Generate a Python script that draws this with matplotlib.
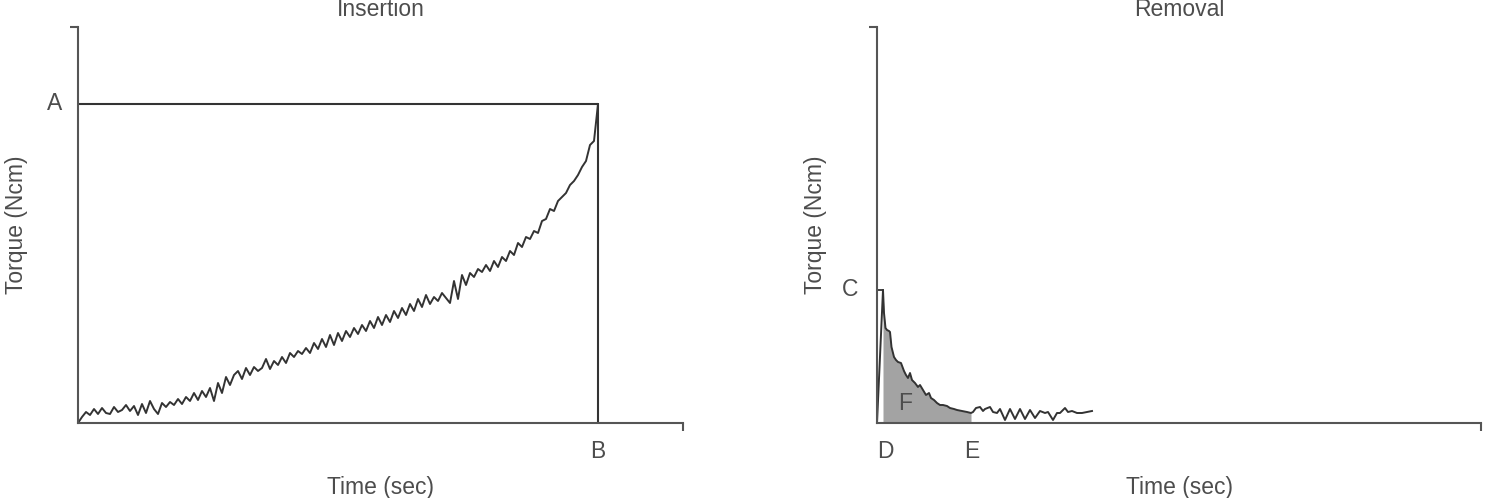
import matplotlib
matplotlib.use('Agg')
import matplotlib.pyplot as plt
import matplotlib.transforms as mtransforms

plt.rcParams['font.family'] = ['Liberation Sans', 'DejaVu Sans']

# insertion torque trace (arbitrary units)
ins_time = list(range(0, 524, 4))
ins_torque = [0, 6, 11, 8, 14, 9, 15, 10, 9, 16, 11, 13, 18, 12, 17, 8, 19, 10, 22, 14,
              9, 20, 16, 21, 18, 24, 19, 26, 22, 30, 23, 32, 26, 35, 22, 40, 30, 46, 38, 48,
              52, 44, 55, 48, 56, 52, 55, 64, 54, 62, 58, 66, 60, 70, 66, 72, 69, 75, 70, 80,
              74, 84, 76, 88, 78, 90, 82, 92, 86, 95, 89, 98, 92, 102, 95, 106, 98, 108, 101, 112,
              105, 115, 108, 119, 112, 124, 116, 128, 119, 126, 122, 130, 125, 120, 142, 124, 148, 138, 150, 146,
              154, 151, 158, 152, 162, 156, 166, 162, 172, 168, 180, 176, 186, 184, 192, 190, 202, 204, 214, 212,
              222, 226, 230, 238, 242, 248, 256, 262, 278, 282, 319]
peak_A = 319
time_B = 520

# removal torque trace
rem_time = [0, 6, 7, 8.5, 10, 12, 13, 14.5, 16, 17, 19, 21, 24, 27, 29, 31, 33, 35, 38, 41,
            43, 46, 49, 52, 54, 57, 60, 63, 66, 70, 73, 77, 80, 85, 90, 94, 96, 99, 103, 106,
            108, 113, 116, 120, 123, 128, 133, 138, 143, 148, 153, 158, 163, 168, 171, 176, 180, 183, 188, 191,
            195, 200, 205, 210, 215]
rem_torque = [0, 133, 110, 95, 93, 92, 91, 76, 70, 66, 63, 61, 60, 52, 48, 45, 50, 43, 40, 36,
              38, 33, 28, 30, 25, 23, 20, 18, 18, 17, 15, 14, 13, 12, 11, 10, 11, 15, 16, 12,
              14, 16, 11, 10, 14, 3, 14, 4, 14, 4, 13, 5, 12, 10, 11, 3, 10, 10, 15, 11,
              12, 10, 10, 11, 12]
peak_C = 133
time_D = 8
time_E = 95
fill_start, fill_end = 6, 94

line_col = '#333333'
spine_col = '#555555'
text_col = '#4d4d4d'
fs = 16.5

fig = plt.figure(figsize=(14.85, 4.98), dpi=100)
ax1 = fig.add_axes([78 / 1485, 75 / 498, 605 / 1485, 396 / 498])
ax2 = fig.add_axes([877 / 1485, 75 / 498, 604 / 1485, 396 / 498])

for ax, xmax, title in [(ax1, 605, 'Insertion'), (ax2, 604, 'Removal')]:
    ax.set_xlim(0, xmax)
    ax.set_ylim(0, 396)
    for s in ['top', 'right']:
        ax.spines[s].set_visible(False)
    for s in ['left', 'bottom']:
        ax.spines[s].set_color(spine_col)
        ax.spines[s].set_linewidth(1.5)
    ax.set_xticks([xmax])
    ax.set_yticks([396])
    ax.set_xticklabels([])
    ax.set_yticklabels([])
    ax.tick_params(direction='out', length=6, width=1.5, color=spine_col)
    ax.set_title(title, fontsize=fs, color=text_col, pad=8)
    ax.text(0.5, -0.162, 'Time (sec)', transform=ax.transAxes, ha='center', va='center',
            fontsize=fs, color=text_col)
    ax.text(-0.102, 0.5, 'Torque (Ncm)', transform=ax.transAxes, ha='center', va='center',
            rotation=90, fontsize=fs, color=text_col)

# insertion
ax1.plot(ins_time, ins_torque, color=line_col, lw=1.4)
ax1.plot([0, time_B, time_B], [peak_A, peak_A, 0], color=line_col, lw=1.5)
tr1y = mtransforms.blended_transform_factory(ax1.transAxes, ax1.transData)
tr1x = mtransforms.blended_transform_factory(ax1.transData, ax1.transAxes)
ax1.text(-0.038, peak_A, 'A', transform=tr1y, ha='center', va='center', fontsize=fs, color=text_col)
ax1.text(time_B, -0.073, 'B', transform=tr1x, ha='center', va='center', fontsize=fs, color=text_col)

# removal
sel = [i for i, t in enumerate(rem_time) if fill_start <= t <= fill_end]
ax2.fill_between([rem_time[i] for i in sel], [rem_torque[i] for i in sel], 0,
                 color='#a3a3a3', lw=0)
ax2.plot(rem_time, rem_torque, color=line_col, lw=1.4)
ax2.plot([0, rem_time[1]], [peak_C, peak_C], color=line_col, lw=1.3)
tr2y = mtransforms.blended_transform_factory(ax2.transAxes, ax2.transData)
tr2x = mtransforms.blended_transform_factory(ax2.transData, ax2.transAxes)
ax2.text(-0.045, peak_C, 'C', transform=tr2y, ha='center', va='center', fontsize=fs, color=text_col)
ax2.text(time_D, -0.073, 'D', transform=tr2x, ha='center', va='center', fontsize=fs, color=text_col)
ax2.text(time_E, -0.073, 'E', transform=tr2x, ha='center', va='center', fontsize=fs, color=text_col)
ax2.text(28, 20, 'F', ha='center', va='center', fontsize=fs, color=text_col)

fig.savefig('out.png', dpi=100)
